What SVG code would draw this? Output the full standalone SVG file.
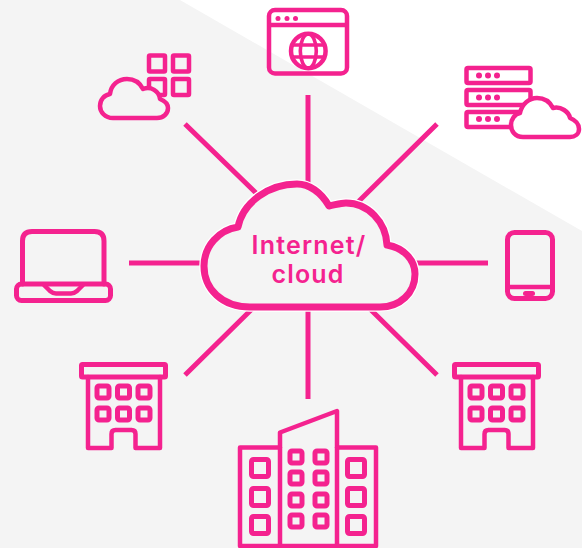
<svg xmlns="http://www.w3.org/2000/svg" width="582" height="548" viewBox="0 0 582 548">
<style>
.s{fill:none;stroke:#f4228f;stroke-linejoin:round;stroke-linecap:round}
.w3{stroke-width:3.6}.w4{stroke-width:4.500}.w5{stroke-width:5}
.d{fill:#f4228f;stroke:none}
.c{stroke:#f4228f;stroke-width:5;fill:none}
text{font-family:"Inter","Open Sans",sans-serif;font-weight:600;font-size:25px;letter-spacing:1.200px;fill:#f4228f;text-anchor:middle}
</style>
<defs>
<g id="bld">
<rect x="81.500" y="364.500" width="84" height="12.500" rx="1" class="s w5"/>
<path d="M88 377V448H111.500V434Q111.500 430 115.500 430H131.500Q135.500 430 135.500 434V448H160V377" class="s w4"/>
<g class="s w5">
<rect x="97" y="386" width="12" height="12" rx="2"/><rect x="117.500" y="386" width="12" height="12" rx="2"/><rect x="138" y="386" width="12" height="12" rx="2"/>
<rect x="97" y="408" width="12" height="12" rx="2"/><rect x="117.500" y="408" width="12" height="12" rx="2"/><rect x="138" y="408" width="12" height="12" rx="2"/>
</g>
</g>
</defs>
<rect width="582" height="548" fill="#fff"/>
<path d="M0 0H180L582 231V548H0Z" fill="#f4f4f4"/>
<g id="connectors">
<path class="c" d="M308 95V190M308 305V399M129 263H208M412 263H488M185 124L256 193M437 124L357 203M185 375L254 307M437 375L368 307"/>
</g>
<g id="cloud">
<path d="M250 307C222 307 204 289 204 266C204 246 219 230 238 227C243 202 269 184 297 184C309 184 321 192 329 206C335 205 340 203 346 203C368 203 386 222 387 245C404 248 415 260 415 274C415 293 400 307 380 307Z" fill="#f4f4f4" stroke="#fff" stroke-width="9.500" stroke-linejoin="round"/>
<path d="M250 307C222 307 204 289 204 266C204 246 219 230 238 227C243 202 269 184 297 184C309 184 321 192 329 206C335 205 340 203 346 203C368 203 386 222 387 245C404 248 415 260 415 274C415 293 400 307 380 307Z" fill="#f4f4f4" stroke="#f4228f" stroke-width="7" stroke-linejoin="round"/>
<text x="309" y="254">Internet/</text>
<text x="308" y="283">cloud</text>
</g>
<g id="browser">
<rect x="269" y="10" width="78" height="63.500" rx="6" class="s w4"/>
<path d="M270 25H346" class="s w4"/>
<circle cx="278" cy="18.500" r="2.500" class="d"/><circle cx="287" cy="18.500" r="2.500" class="d"/><circle cx="295.500" cy="18.500" r="2.500" class="d"/>
<circle cx="308.300" cy="51" r="17.300" class="s w4"/>
<ellipse cx="308.300" cy="51" rx="8" ry="17" class="s w3"/>
<path d="M293 45H323M293 57H323" class="s w3"/>
</g>
<g id="apps">
<rect x="149" y="55.500" width="16" height="16" rx="1" class="s w4"/>
<rect x="173" y="55.500" width="16" height="16" rx="1" class="s w4"/>
<rect x="149" y="79" width="16" height="16" rx="1" class="s w4"/>
<rect x="173" y="79" width="16" height="16" rx="1" class="s w4"/>
<path d="M113 118C105 118 100 112 100 106C100 100 104 95 110 94C111 85 118 79 127 79C135 79 140 83 143 89C151 86 159 91 160 99C165 101 168 104 168 108C168 114 163 118 157 118Z" fill="#f4f4f4" stroke="#f4228f" stroke-width="4.500" stroke-linejoin="round"/>
</g>
<g id="servers">
<rect x="466.500" y="68" width="64" height="15" rx="1.500" class="s w4"/>
<rect x="466.500" y="90" width="64" height="15" rx="1.500" class="s w4"/>
<rect x="466.500" y="112" width="64" height="15" rx="1.500" class="s w4"/>
<g class="d"><circle cx="479" cy="75.500" r="3"/><circle cx="488" cy="75.500" r="3"/><circle cx="497" cy="75.500" r="3"/>
<circle cx="479" cy="97.500" r="3"/><circle cx="488" cy="97.500" r="3"/><circle cx="497" cy="97.500" r="3"/>
<circle cx="479" cy="119" r="3"/><circle cx="488" cy="119" r="3"/><circle cx="497" cy="119" r="3"/></g>
<path d="M523 137C515 137 511 131 511 125C511 119 515 114 520 113C522 104 529 98 537 98C544 98 550 102 553 108C561 106 569 112 570 118C575 120 579 124 579 129C579 134 575 137 570 137Z" fill="#fff" stroke="#f4228f" stroke-width="4.500" stroke-linejoin="round"/>
</g>
<g id="laptop">
<path d="M22.500 284V241Q22.500 231.500 32 231.500H94.500Q104 231.500 104 241V284" class="s w5"/>
<rect x="16.500" y="284" width="94" height="16.500" rx="5" class="s w5"/>
<path d="M44 285L50 291Q53 293.500 56 293.500H71Q74 293.500 77 291L83 285" class="s w4"/>
</g>
<g id="tablet">
<rect x="507.500" y="232.500" width="45" height="66" rx="7" class="s w5"/>
<path d="M508 287H552" class="s w4"/>
<rect x="523" y="291" width="12" height="5" rx="2.500" class="d"/>
</g>
<g id="building-left"><use href="#bld"/></g>
<g id="building-right"><use href="#bld" x="373"/></g>
<g id="campus">
<path d="M280 547V432.500L337 411V547" class="s w4"/>
<path d="M280 447.500H240V546H376V447.500H337" class="s w4"/>
<g class="s w5">
<rect x="251.500" y="459.500" width="17" height="17" rx="2"/><rect x="251.500" y="488.500" width="17" height="17" rx="2"/><rect x="251.500" y="516.500" width="17" height="17" rx="2"/>
<rect x="347.500" y="459.500" width="17" height="17" rx="2"/><rect x="347.500" y="488.500" width="17" height="17" rx="2"/><rect x="347.500" y="516.500" width="17" height="17" rx="2"/>
<rect x="290" y="451" width="12" height="12" rx="2"/><rect x="315" y="451" width="12" height="12" rx="2"/>
<rect x="290" y="472" width="12" height="12" rx="2"/><rect x="315" y="472" width="12" height="12" rx="2"/>
<rect x="290" y="494" width="12" height="12" rx="2"/><rect x="315" y="494" width="12" height="12" rx="2"/>
<rect x="290" y="515" width="12" height="12" rx="2"/><rect x="315" y="515" width="12" height="12" rx="2"/>
</g>
</g>
</svg>
